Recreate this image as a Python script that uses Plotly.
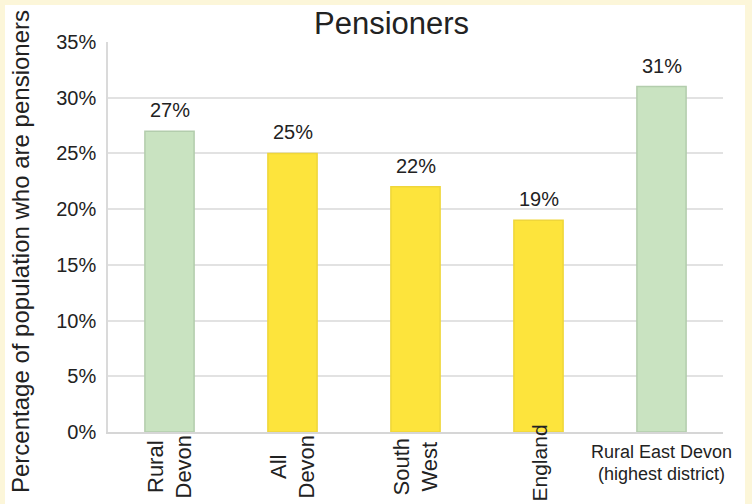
import plotly.graph_objects as go

# Share of population who are pensioners, by area
categories = ["Rural Devon", "All Devon", "South West", "England", "Rural East Devon"]
tick_text = ["Rural<br>Devon", "All<br>Devon", "South<br>West", "England",
             "Rural East Devon<br>(highest district)"]
values = [27, 25, 22, 19, 31]
bar_colors = ["#C9E3C1", "#FDE43C", "#FDE43C", "#FDE43C", "#C9E3C1"]
edge_colors = ["#B3CDAD", "#EFD63A", "#EFD63A", "#EFD63A", "#B3CDAD"]
y_ticks = [0, 5, 10, 15, 20, 25, 30, 35]

W, H = 752, 504
L, R, T, B = 108, 29, 42, 72
plot_h = H - T - B
plot_w = W - L - R


def px_x(px):
    return (px - L) / plot_w


def px_y(py):
    return (H - B - py) / plot_h


FONT = "Liberation Sans, Arial, sans-serif"
TXT = "#222222"

fig = go.Figure(
    go.Bar(
        x=categories,
        y=values,
        width=0.4,
        marker=dict(color=bar_colors, line=dict(color=edge_colors, width=1.5)),
        hoverinfo="skip",
    )
)

annotations = []
# value labels above bars
for c, v in zip(categories, values):
    annotations.append(dict(
        x=c, y=v, xref="x", yref="y", text=f"{v}%", showarrow=False,
        yanchor="bottom", yshift=8, font=dict(size=20, color=TXT, family=FONT),
    ))

# category labels: rotated for the first four, horizontal for the last
for i, (c, t) in enumerate(zip(categories, tick_text)):
    if i < 3:
        annotations.append(dict(
            x=c, y=px_y(467), xref="x", yref="paper", text=t, showarrow=False,
            textangle=-90, xanchor="center", yanchor="middle", align="center",
            font=dict(size=22, color=TXT, family=FONT),
        ))
    elif i == 3:
        annotations.append(dict(
            x=c, y=px_y(463), xref="x", yref="paper", text=t, showarrow=False,
            textangle=-90, xanchor="center", yanchor="middle", align="center",
            font=dict(size=21, color=TXT, family=FONT),
        ))
    else:
        for line, cy in zip(t.split("<br>"), (452, 474)):
            annotations.append(dict(
                x=c, y=px_y(cy), xref="x", yref="paper", text=line,
                showarrow=False, xanchor="center", yanchor="middle",
                font=dict(size=18, color=TXT, family=FONT),
            ))

# chart title and y-axis title
annotations.append(dict(
    x=px_x(391), y=px_y(24), xref="paper", yref="paper", text="Pensioners",
    showarrow=False, xanchor="center", yanchor="middle",
    font=dict(size=31, color=TXT, family=FONT),
))
annotations.append(dict(
    x=px_x(20), y=px_y(252), xref="paper", yref="paper",
    text="Percentage of population who are pensioners",
    showarrow=False, textangle=-90, xanchor="center", yanchor="middle",
    font=dict(size=24, color=TXT, family=FONT),
))

fig.update_layout(
    width=W, height=H,
    margin=dict(l=L, r=R, t=T, b=B),
    paper_bgcolor="#FCF6D9",
    plot_bgcolor="white",
    showlegend=False,
    annotations=annotations,
    shapes=[dict(
        type="rect", xref="paper", yref="paper", layer="below",
        x0=px_x(5), x1=px_x(745), y0=px_y(510), y1=px_y(5),
        fillcolor="white", line=dict(width=0),
    )],
    xaxis=dict(
        range=[-0.5, 4.5], showticklabels=False, showgrid=False,
        showline=True, linecolor="#D6D6D6", linewidth=2, zeroline=False,
        fixedrange=True,
    ),
    yaxis=dict(
        range=[0, 35], tickvals=y_ticks, ticktext=[f"{t}%" for t in y_ticks],
        showgrid=True, gridcolor="#E2E2E2", gridwidth=1.5,
        showline=True, linecolor="#DADADA", linewidth=1.5, zeroline=False,
        ticks="", ticklabelstandoff=6,
        tickfont=dict(size=20, color=TXT, family=FONT),
        fixedrange=True,
    ),
)

fig.write_html("out.html")
